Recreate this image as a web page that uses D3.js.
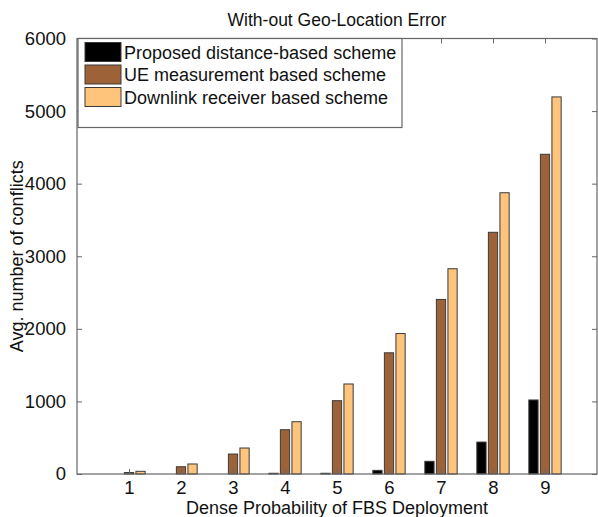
<!DOCTYPE html>
<html>
<head>
<meta charset="utf-8">
<script src="https://cdn.jsdelivr.net/npm/d3@7"></script>
<style>
  body { margin: 0; background: #fff; }
  text { font-family: "Liberation Sans", Arial, sans-serif; fill: #111; }
</style>
</head>
<body>
<div id="chart"></div>
<script>
// data
var categories = [1, 2, 3, 4, 5, 6, 7, 8, 9];
var seriesNames = ["Proposed distance-based scheme", "UE measurement based scheme", "Downlink receiver based scheme"];
var proposed = [0, 0, 0, 10, 10, 50, 175, 440, 1020];
var ueMeasure = [20, 100, 275, 610, 1010, 1670, 2405, 3330, 4405];
var downlink = [37, 138, 358, 720, 1240, 1935, 2828, 3875, 5195];
var yTicks = [0, 1000, 2000, 3000, 4000, 5000, 6000];
var colors = ["#000000", "#9e6238", "#fec47c"];

var w = 598, h = 517;
// plot box (note: "top" is reserved on window, so use other names)
var pLeft = 77, pRight = 597, pTop = 38.5, pBottom = 474;

var svg = d3.select("#chart").append("svg")
  .attr("width", w)
  .attr("height", h);

var x = d3.scaleLinear().domain([0, 10]).range([pLeft, pRight]);
var y = d3.scaleLinear().domain([0, 6000]).range([pBottom, pTop]);

var allSeries = [proposed, ueMeasure, downlink];
var step = 0.222;            // per bar spacing in x units
var barW = x(step * 0.8) - x(0);

// bars
allSeries.forEach(function (vals, s) {
  svg.append("g").selectAll("rect")
    .data(vals)
    .enter().append("rect")
    .attr("x", function (d, i) { return x(categories[i] + (s - 1) * step) - barW / 2; })
    .attr("y", function (d) { return y(d); })
    .attr("width", barW)
    .attr("height", function (d) { return y(0) - y(d); })
    .attr("fill", colors[s])
    .attr("stroke", "#3a3a3a")
    .attr("stroke-width", 1);
});

// frame
svg.append("rect")
  .attr("x", pLeft).attr("y", pTop)
  .attr("width", pRight - pLeft).attr("height", pBottom - pTop)
  .attr("fill", "none").attr("stroke", "#666").attr("stroke-width", 1.2);

// axes with inward ticks
var tl = 5;
svg.append("g")
  .attr("transform", "translate(" + pLeft + ",0)")
  .call(d3.axisLeft(y).tickValues(yTicks).tickSize(-tl).tickPadding(tl + 6).tickFormat(d3.format("d")))
  .call(function (g) { g.select(".domain").remove(); });
svg.append("g")
  .attr("transform", "translate(" + pRight + ",0)")
  .call(d3.axisRight(y).tickValues(yTicks).tickSize(-tl).tickFormat(""))
  .call(function (g) { g.select(".domain").remove(); });
svg.append("g")
  .attr("transform", "translate(0," + pBottom + ")")
  .call(d3.axisBottom(x).tickValues(categories).tickSize(-tl).tickPadding(tl + 2).tickFormat(d3.format("d")))
  .call(function (g) { g.select(".domain").remove(); });
svg.append("g")
  .attr("transform", "translate(0," + pTop + ")")
  .call(d3.axisTop(x).tickValues(categories).tickSize(-tl).tickFormat(""))
  .call(function (g) { g.select(".domain").remove(); });

svg.selectAll(".tick line").attr("stroke", "#666");
svg.selectAll(".tick text")
  .attr("font-size", "18.5px")
  .attr("font-family", "Liberation Sans, Arial, sans-serif")
  .attr("fill", "#111");

// title and labels
svg.append("text")
  .attr("x", (pLeft + pRight) / 2).attr("y", 26)
  .attr("text-anchor", "middle")
  .attr("font-size", "17.5px")
  .text("With-out Geo-Location Error");

svg.append("text")
  .attr("x", (pLeft + pRight) / 2).attr("y", 514)
  .attr("text-anchor", "middle")
  .attr("font-size", "18px")
  .text("Dense Probability of FBS Deployment");

svg.append("text")
  .attr("transform", "translate(23," + ((pTop + pBottom) / 2) + ") rotate(-90)")
  .attr("text-anchor", "middle")
  .attr("font-size", "18px")
  .text("Avg. number of conflicts");

// legend
var lg = svg.append("g");
lg.append("rect")
  .attr("x", 78).attr("y", pTop)
  .attr("width", 324).attr("height", 89)
  .attr("fill", "#fff").attr("stroke", "#666").attr("stroke-width", 1.2);

var rows = lg.selectAll("g.row")
  .data(seriesNames)
  .enter().append("g")
  .attr("class", "row")
  .attr("transform", function (d, i) { return "translate(85," + (42.5 + i * 22.5) + ")"; });

rows.append("rect")
  .attr("width", 36).attr("height", 19)
  .attr("fill", function (d, i) { return colors[i]; })
  .attr("stroke", "#3a3a3a");

rows.append("text")
  .attr("x", 39).attr("y", 16)
  .attr("font-size", "18px")
  .text(function (d) { return d; });
</script>
</body>
</html>
